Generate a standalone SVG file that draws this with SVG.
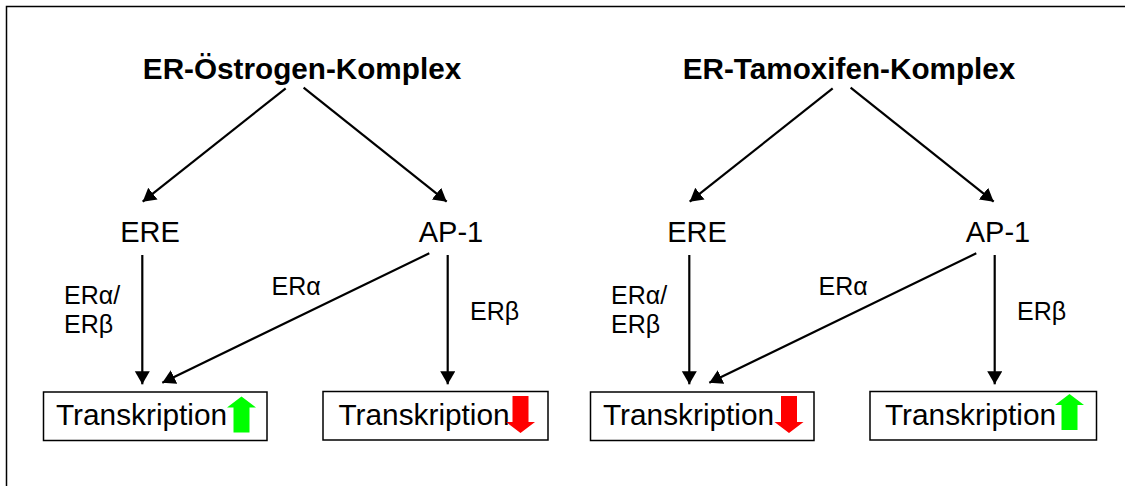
<svg xmlns="http://www.w3.org/2000/svg" width="1125" height="486" viewBox="0 0 1125 486">
  <style>
    .title { font-family: "Liberation Sans", Arial, sans-serif; font-weight: bold; font-size: 29.7px; fill: #000; text-anchor: middle; }
    .node { font-family: "Liberation Sans", Arial, sans-serif; font-size: 29px; fill: #000; text-anchor: middle; }
    .box-text { font-family: "Liberation Sans", Arial, sans-serif; font-size: 29.8px; fill: #000; }
    .label { font-family: "Liberation Sans", Arial, sans-serif; font-size: 25px; fill: #000; }
    .box { fill: #fff; stroke: #000; stroke-width: 1.5; }
    .edge { fill: none; stroke: #000; stroke-width: 2.2; marker-end: url(#head); }
    .up { fill: #00ff00; }
    .down { fill: #ff0000; }
  </style>
  <defs>
    <marker id="head" markerUnits="userSpaceOnUse" markerWidth="14" markerHeight="16" refX="13" refY="7.5" orient="auto">
      <path d="M0,0 L13,7.5 L0,15 Z" fill="#000"/>
    </marker>
    <path id="arrow-up" d="M0,0 L14.5,11 L8,11 L8,36 L-8,36 L-8,11 L-14.5,11 Z"/>
    <path id="arrow-down" d="M-8,0 L8,0 L8,26 L14.5,26 L0,37 L-14.5,26 L-8,26 Z"/>
  </defs>

  <rect width="1125" height="486" fill="#fff"/>
  <!-- frame -->
  <path d="M6.5,486 V6.5 H1125" fill="none" stroke="#000" stroke-width="1.5"/>

  <!-- connectors -->
  <g id="connectors">
    <line class="edge" x1="285.7" y1="88.3" x2="142.7" y2="201.7"/>
    <line class="edge" x1="303.6" y1="87.7" x2="446.7" y2="201.7"/>
    <line class="edge" x1="142.3" y1="255" x2="142.3" y2="384.3"/>
    <line class="edge" x1="447.7" y1="255" x2="447.7" y2="384.3"/>
    <line class="edge" x1="429.3" y1="253.3" x2="162.3" y2="382.7"/>

    <line class="edge" x1="832.7" y1="88.3" x2="689.7" y2="201.7"/>
    <line class="edge" x1="850.6" y1="87.7" x2="993.7" y2="201.7"/>
    <line class="edge" x1="689.3" y1="255" x2="689.3" y2="384.3"/>
    <line class="edge" x1="994.7" y1="255" x2="994.7" y2="384.3"/>
    <line class="edge" x1="976.3" y1="253.3" x2="709.3" y2="382.7"/>

    <text class="label" x="64" y="304">ERα/</text>
    <text class="label" x="64" y="333">ERβ</text>
    <text class="label" x="271.5" y="295">ERα</text>
    <text class="label" x="470" y="320">ERβ</text>

    <text class="label" x="611" y="304">ERα/</text>
    <text class="label" x="611" y="333">ERβ</text>
    <text class="label" x="818.5" y="295">ERα</text>
    <text class="label" x="1017" y="320">ERβ</text>
  </g>

  <!-- estrogen complex side -->
  <g id="estrogen-complex"><text class="title" x="302" y="79">ER-Östrogen-Komplex</text></g>
  <g id="ere-left"><text class="node" x="150" y="242">ERE</text></g>
  <g id="ap1-left"><text class="node" x="451" y="242">AP-1</text></g>
  <g id="transcription-1">
    <rect class="box" x="43.5" y="392" width="223.5" height="48.5"/>
    <text class="box-text" x="56" y="425">Transkription</text>
    <use href="#arrow-up" class="up" x="241.5" y="396.5"/>
  </g>
  <g id="transcription-2">
    <rect class="box" x="323" y="391.5" width="225" height="48.5"/>
    <text class="box-text" x="338.5" y="425">Transkription</text>
    <use href="#arrow-down" class="down" x="520.5" y="396"/>
  </g>

  <!-- tamoxifen complex side -->
  <g id="tamoxifen-complex"><text class="title" x="849" y="79">ER-Tamoxifen-Komplex</text></g>
  <g id="ere-right"><text class="node" x="697" y="242">ERE</text></g>
  <g id="ap1-right"><text class="node" x="998" y="242">AP-1</text></g>
  <g id="transcription-3">
    <rect class="box" x="590.5" y="392" width="223.5" height="48.5"/>
    <text class="box-text" x="603" y="425">Transkription</text>
    <use href="#arrow-down" class="down" x="789" y="396"/>
  </g>
  <g id="transcription-4">
    <rect class="box" x="870" y="391.5" width="226.5" height="48.5"/>
    <text class="box-text" x="885" y="425">Transkription</text>
    <use href="#arrow-up" class="up" x="1069.5" y="394"/>
  </g>
</svg>
